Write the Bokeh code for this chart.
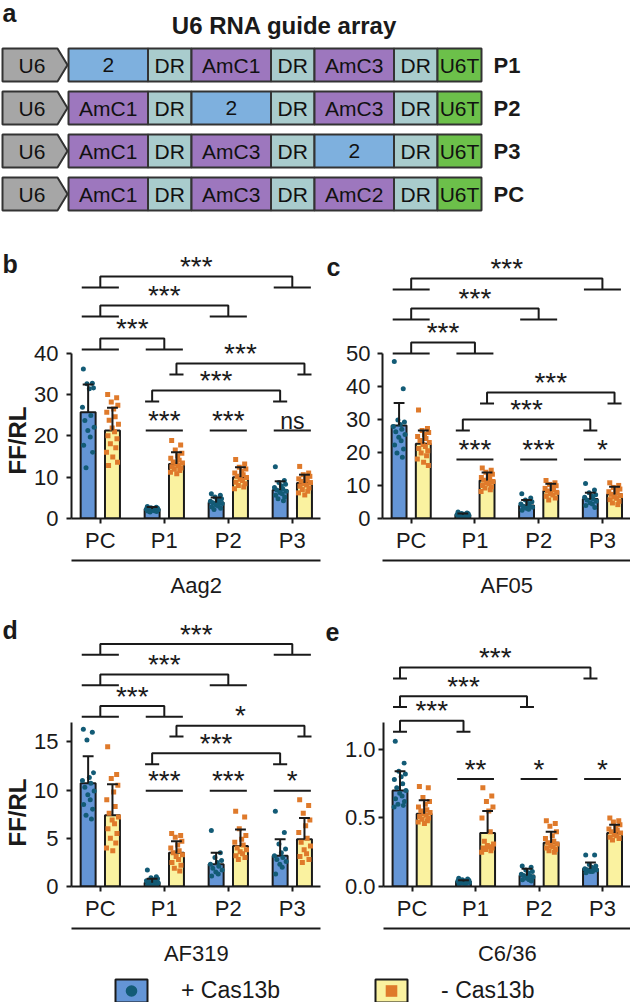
import math
import numpy as np
from bokeh.plotting import figure
from bokeh.models import (Range1d, FixedTicker, LinearAxis, Label, Legend,
                          LegendItem, NumeralTickFormatter)
from bokeh.layouts import column, row
from bokeh.embed import file_html
from bokeh.resources import INLINE
from bokeh.core.properties import value

FONT = "Liberation Sans"
INK = "#1a1a1a"

# ---------------- data ----------------
array_rows = ["P1", "P2", "P3", "PC"]
array_parts = [
    ["2", "DR", "AmC1", "DR", "AmC3", "DR", "U6T"],
    ["AmC1", "DR", "2", "DR", "AmC3", "DR", "U6T"],
    ["AmC1", "DR", "AmC3", "DR", "2", "DR", "U6T"],
    ["AmC1", "DR", "AmC3", "DR", "AmC2", "DR", "U6T"],
]
promoter = "U6"

groups = ["PC", "P1", "P2", "P3"]
series_labels = ["+ Cas13b", "- Cas13b"]
y_title = "FF/RL"

# Aag2 (b)
aag2_plus_mean = [25.7, 2.3, 3.9, 6.9]
aag2_plus_sd = [6.7, 0.5, 1.2, 2.1]
aag2_plus_pts = [
    [36.2, 32.7, 32.6, 31.6, 31.4, 26.9, 24.9, 23.7, 22.1, 21.3, 19.7, 17.7, 16.0, 12.3],
    [2.9, 2.7, 2.6, 2.5, 2.4, 2.3, 2.2, 2.2, 2.1, 2.0, 1.9, 1.8, 1.7, 1.6],
    [6.0, 5.6, 5.2, 4.8, 4.5, 4.2, 4.0, 3.8, 3.6, 3.3, 3.0, 2.8, 2.5, 2.2],
    [12.5, 9.2, 8.7, 8.3, 7.9, 7.5, 7.2, 6.9, 6.6, 6.3, 6.0, 5.6, 5.2, 4.8, 4.3],
]
aag2_minus_mean = [21.3, 13.2, 10.0, 8.6]
aag2_minus_sd = [5.5, 2.8, 2.4, 2.0]
aag2_minus_pts = [
    [30.0, 29.2, 28.2, 27.4, 26.5, 25.7, 24.6, 23.8, 22.8, 21.9, 21.0, 20.0, 19.3, 18.1, 17.1, 16.0, 14.9, 13.6, 12.8],
    [18.9, 17.8, 16.6, 15.8, 15.2, 14.6, 14.1, 13.7, 13.4, 13.1, 12.8, 12.5, 12.2, 11.9, 11.6, 11.2, 10.8],
    [14.3, 13.2, 12.4, 12.0, 11.4, 11.0, 10.6, 10.2, 9.9, 9.5, 9.2, 8.8, 8.4, 8.0, 7.6, 7.2],
    [12.6, 11.0, 10.6, 10.2, 9.9, 9.6, 9.3, 9.0, 8.7, 8.4, 8.1, 7.8, 7.4, 7.0, 6.6, 6.2, 5.7],
]
aag2_brackets = [("PC", "P3", "both", "***"), ("PC", "P2", "both", "***"), ("PC", "P1", "both", "***"),
                 ("P1", "P3", "minus", "***"), ("P1", "P3", "plus", "***")]
aag2_pairs = ["", "***", "***", "ns"]

# AF05 (c)
af05_plus_mean = [28.1, 1.1, 3.9, 5.9]
af05_plus_sd = [6.8, 0.4, 1.7, 1.9]
af05_plus_pts = [
    [47.5, 39.2, 29.8, 29.2, 28.4, 27.8, 27.0, 26.2, 25.4, 24.6, 23.5, 22.2, 21.0, 19.8, 18.5],
    [2.0, 1.7, 1.5, 1.4, 1.3, 1.2, 1.1, 1.0, 0.9, 0.8, 0.7, 0.6, 0.5],
    [7.5, 6.2, 5.6, 5.1, 4.7, 4.4, 4.0, 3.7, 3.4, 3.1, 2.8, 2.5],
    [10.6, 8.6, 7.8, 7.2, 6.8, 6.4, 6.0, 5.6, 5.2, 4.8, 4.4, 3.9, 3.3],
]
af05_minus_mean = [22.6, 11.5, 8.3, 7.3]
af05_minus_sd = [4.0, 2.4, 2.2, 2.3]
af05_minus_pts = [
    [32.8, 27.2, 26.6, 26.0, 25.4, 24.8, 24.2, 23.6, 23.0, 22.4, 21.8, 21.2, 20.5, 19.8, 19.0, 18.0, 17.0, 16.0],
    [15.3, 14.6, 14.0, 13.4, 12.9, 12.4, 12.0, 11.6, 11.2, 10.8, 10.4, 10.0, 9.6, 9.2, 8.7, 8.2],
    [11.5, 10.8, 10.3, 9.9, 9.5, 9.1, 8.7, 8.3, 7.9, 7.5, 7.1, 6.7, 6.2, 5.6],
    [10.8, 10.0, 9.4, 8.9, 8.5, 8.1, 7.7, 7.3, 6.9, 6.5, 6.1, 5.7, 5.2, 4.7, 4.2],
]
af05_brackets = [("PC", "P3", "both", "***"), ("PC", "P2", "both", "***"), ("PC", "P1", "both", "***"),
                 ("P1", "P3", "minus", "***"), ("P1", "P3", "plus", "***")]
af05_pairs = ["", "***", "***", "*"]

# AF319 (d)
af319_plus_mean = [10.7, 0.4, 2.3, 3.2]
af319_plus_sd = [2.8, 0.4, 1.2, 1.7]
af319_plus_pts = [
    [16.3, 16.0, 15.2, 11.8, 11.3, 11.0, 10.7, 10.3, 9.9, 9.5, 9.0, 8.5, 8.0, 7.4, 7.0],
    [1.7, 1.0, 0.9, 0.8, 0.7, 0.6, 0.5, 0.5, 0.4, 0.3, 0.3, 0.2, 0.2, 0.1],
    [5.8, 3.5, 3.0, 2.7, 2.5, 2.3, 2.1, 1.9, 1.7, 1.5, 1.3, 1.1],
    [7.8, 5.6, 4.4, 3.9, 3.5, 3.2, 3.0, 2.8, 2.6, 2.3, 2.0, 1.3],
]
af319_minus_mean = [7.4, 3.5, 4.2, 4.9]
af319_minus_sd = [3.2, 1.2, 1.7, 2.2]
af319_minus_pts = [
    [14.5, 11.6, 11.2, 10.5, 9.8, 9.0, 8.3, 7.6, 7.2, 6.9, 6.5, 6.0, 5.5, 5.0, 4.5, 4.0, 3.7],
    [5.5, 5.3, 5.1, 4.7, 4.3, 4.0, 3.7, 3.5, 3.3, 3.1, 2.8, 2.5, 2.2, 1.9, 1.6],
    [7.8, 7.2, 6.0, 5.3, 4.9, 4.6, 4.3, 4.0, 3.8, 3.6, 3.4, 3.2, 3.0, 2.8],
    [9.0, 8.4, 7.6, 6.9, 6.3, 5.6, 5.0, 4.6, 4.2, 3.8, 3.4, 3.1, 2.8, 2.5],
]
af319_brackets = [("PC", "P3", "both", "***"), ("PC", "P2", "both", "***"), ("PC", "P1", "both", "***"),
                  ("P1", "P3", "minus", "*"), ("P1", "P3", "plus", "***")]
af319_pairs = ["", "***", "***", "*"]

# C6/36 (e)
c636_plus_mean = [0.70, 0.036, 0.08, 0.13]
c636_plus_sd = [0.14, 0.01, 0.05, 0.045]
c636_plus_pts = [
    [1.06, 0.90, 0.84, 0.82, 0.80, 0.78, 0.75, 0.72, 0.70, 0.68, 0.66, 0.64, 0.62, 0.60, 0.59, 0.58],
    [0.06, 0.055, 0.05, 0.045, 0.04, 0.04, 0.035, 0.03, 0.03, 0.025, 0.02, 0.02],
    [0.15, 0.14, 0.12, 0.11, 0.10, 0.09, 0.08, 0.08, 0.07, 0.06, 0.05, 0.05, 0.04],
    [0.23, 0.23, 0.16, 0.15, 0.14, 0.13, 0.13, 0.12, 0.12, 0.11, 0.11, 0.10],
]
c636_minus_mean = [0.53, 0.39, 0.32, 0.39]
c636_minus_sd = [0.10, 0.16, 0.08, 0.06]
c636_minus_pts = [
    [0.73, 0.72, 0.65, 0.62, 0.60, 0.58, 0.56, 0.55, 0.54, 0.53, 0.52, 0.51, 0.50, 0.49, 0.48, 0.47, 0.46],
    [0.72, 0.66, 0.62, 0.58, 0.55, 0.50, 0.40, 0.33, 0.31, 0.30, 0.29, 0.28, 0.28, 0.27, 0.26, 0.25],
    [0.48, 0.46, 0.44, 0.40, 0.37, 0.35, 0.33, 0.32, 0.31, 0.30, 0.29, 0.28, 0.27, 0.26, 0.25],
    [0.50, 0.48, 0.47, 0.45, 0.43, 0.42, 0.41, 0.40, 0.39, 0.38, 0.37, 0.36, 0.35, 0.34],
]
c636_brackets = [("PC", "P3", "plus", "***"), ("PC", "P2", "plus", "***"), ("PC", "P1", "plus", "***")]
c636_pairs = ["", "**", "*", "*"]

# ---------------- styles ----------------
BAR_PLUS, BAR_MINUS = "#6495D6", "#FAF2A0"
DOT_PLUS, DOT_MINUS = "#135B76", "#DF7A2B"
PART_COLOR = {"2": "#7EB0DE", "DR": "#A9CCCD", "AmC": "#9D77BE", "U6T": "#6CC04A", "U6": "#A6A6A6"}
PART_W = {"2": 79.5, "DR": 43.5, "AmC": 79.5, "U6T": 44.0}
BAR_W = 0.234
OFF = 0.19
CAP = 0.085
GROUP_HW = 0.29
FOOT_HW = 0.11
DROP = 11
TXT_GAP = 10
TICK_FS = "22px"
PX_PER_GROUP = 64.0
X0 = -0.45
AX_END = 3.44
STRIP_W = 30
JIT = [-0.32, 0.28, -0.08, 0.36, 0.08, -0.38, 0.18, -0.22, 0.40, -0.02,
       0.14, -0.30, 0.30, -0.14, 0.22, -0.40, 0.02, 0.34, -0.26, 0.10]


def kind(part):
    return "AmC" if part.startswith("AmC") else part


def bare(fig):
    fig.axis.visible = False
    fig.grid.visible = False
    fig.outline_line_color = None


# ---------------- panel a ----------------
pa = figure(width=630, height=215, x_range=Range1d(0, 630), y_range=Range1d(215, 0),
            output_backend="svg", toolbar_location=None, min_border=0)
bare(pa)

row_top0, row_pitch, row_h = 48, 43, 33
arr_left, arr_body, arr_tip = 2, 55, 10
x_start = 68
L, R, T, B, C, TX, TY, TT = [], [], [], [], [], [], [], []
pxs, pys = [], []
for i, parts in enumerate(array_parts):
    t = row_top0 + i * row_pitch
    b = t + row_h
    m = (t + b) / 2
    pxs.append([arr_left, arr_left + arr_body, arr_left + arr_body + arr_tip, arr_left + arr_body, arr_left])
    pys.append([t, t, m, b, b])
    TX.append(arr_left + arr_body / 2 + 2); TY.append(m); TT.append(promoter)
    x = x_start
    for part in parts:
        w = PART_W[kind(part)]
        L.append(x); R.append(x + w); T.append(t); B.append(b)
        C.append(PART_COLOR[kind(part)])
        TX.append(x + w / 2); TY.append(m); TT.append(part)
        x += w
pa.patches(pxs, pys, fill_color=PART_COLOR["U6"], line_color="#333333", line_width=2)
pa.quad(left=L, right=R, top=T, bottom=B, fill_color=C, line_color="#333333", line_width=2)
pa.text(TX, TY, text=TT, text_align="center", text_baseline="middle",
        text_font=value(FONT), text_font_size="21px", text_color="#111111")
row_mid = [row_top0 + i * row_pitch + row_h / 2 for i in range(len(array_rows))]
pa.text([x_start + 425] * len(array_rows), row_mid, text=array_rows, text_align="left",
        text_baseline="middle", text_font=value(FONT), text_font_size="22px",
        text_font_style="bold", text_color=INK)
pa.add_layout(Label(x=2, y=-2, text="a", text_font=FONT, text_font_size="25px",
                    text_font_style="bold", text_baseline="top", text_color=INK))
pa.add_layout(Label(x=284, y=25, text="U6 RNA guide array", text_font=FONT, text_font_size="24px",
                    text_font_style="bold", text_baseline="middle", text_align="center", text_color=INK))


# ---------------- left strip: panel letter + y title ----------------
def strip(H, bottom, letter, letter_y, title_y):
    fh = H - bottom
    s = figure(width=STRIP_W, height=H, x_range=Range1d(0, STRIP_W), y_range=Range1d(0, fh),
               output_backend="svg", toolbar_location=None, min_border_left=0, min_border_right=0,
               min_border_top=0, min_border_bottom=bottom)
    bare(s)
    s.text([2], [letter_y], text=[letter], text_baseline="middle", text_align="left",
           text_font=value(FONT), text_font_size="25px", text_font_style="bold", text_color=INK)
    s.text([17], [title_y], text=[y_title], angle=math.pi / 2, text_baseline="middle",
           text_align="center", text_font=value(FONT), text_font_size="24px",
           text_font_style="bold", text_color=INK)
    return s


# ---------------- bar panels ----------------
def bar_panel(cell, plus_mean, plus_sd, plus_pts, minus_mean, minus_sd, minus_pts,
              brackets, pairs, lay):
    W, H, bb, left = lay["w"], lay["h"], lay["bottom"], lay["left"]
    frame_h = H - bb
    ppu = lay["ppu"]
    x_end = X0 + (W - left) / PX_PER_GROUP
    p = figure(width=W, height=H, x_range=Range1d(X0, x_end), y_range=Range1d(0, frame_h / ppu),
               output_backend="svg", toolbar_location=None,
               min_border_left=left, min_border_right=0, min_border_top=0, min_border_bottom=bb)
    p.grid.visible = False
    p.outline_line_color = None
    xi = np.arange(len(groups))
    specs = [(plus_mean, plus_sd, plus_pts, -OFF, BAR_PLUS, DOT_PLUS, "circle", 5),
             (minus_mean, minus_sd, minus_pts, OFF, BAR_MINUS, DOT_MINUS, "square", 5)]
    for mean, sd, pts, off, fill, dot, marker, size in specs:
        p.vbar(x=xi + off, top=mean, bottom=0, width=BAR_W, fill_color=fill,
               line_color=INK, line_width=2)
    for mean, sd, pts, off, fill, dot, marker, size in specs:
        px, py = [], []
        for g, vals in enumerate(pts):
            for k, v in enumerate(vals):
                px.append(g + off + JIT[k % len(JIT)] * BAR_W)
                py.append(v)
        p.scatter(px, py, marker=marker, size=size, fill_color=dot, line_color=None)
    for mean, sd, pts, off, fill, dot, marker, size in specs:
        x = xi + off
        up = [m + s for m, s in zip(mean, sd)]
        p.segment(x0=x, y0=mean, x1=x, y1=up, line_color=INK, line_width=2)
        p.segment(x0=x - CAP, y0=up, x1=x + CAP, y1=up, line_color=INK, line_width=2)

    lx, ly, tx, ty, tt = [], [], [], [], []
    for (ga, gb, series, label), lvl in zip(brackets, lay["levels"]):
        a, b = groups.index(ga), groups.index(gb)
        if series == "both":
            off, fw = 0.0, GROUP_HW
        elif series == "plus":
            off, fw = -OFF, FOOT_HW
        else:
            off, fw = OFF, FOOT_HW
        xa, xb = a + off, b + off
        yl, yf = lvl / ppu, (lvl - DROP) / ppu
        lx += [[xa, xa, xb, xb], [xa - fw, xa + fw], [xb - fw, xb + fw]]
        ly += [[yf, yl, yl, yf], [yf, yf], [yf, yf]]
        tx.append((xa + xb) / 2); ty.append((lvl + TXT_GAP) / ppu); tt.append(label)
    pl_ = lay["pair"] / ppu
    for g, label in enumerate(pairs):
        if label:
            lx.append([g - GROUP_HW, g + GROUP_HW]); ly.append([pl_, pl_])
            tx.append(g); ty.append((lay["pair"] + TXT_GAP) / ppu); tt.append(label)
    p.multi_line(lx, ly, line_color=INK, line_width=2)
    stars = [i for i, t in enumerate(tt) if t.startswith("*")]
    words = [i for i, t in enumerate(tt) if not t.startswith("*")]
    for idx, fs in ((stars, "28px"), (words, "23px")):
        if idx:
            p.text([tx[i] for i in idx], [ty[i] for i in idx], text=[tt[i] for i in idx],
                   text_align="center", text_baseline="alphabetic",
                   text_font=value(FONT), text_font_size=fs, text_color=INK)

    # letter of the neighbouring panel, which sits in this panel's spare right margin
    if lay.get("next_letter"):
        nx = X0 + lay["next_x"] / PX_PER_GROUP
        p.text([nx], [lay["next_y"] / ppu], text=[lay["next_letter"]], text_align="left",
               text_baseline="middle", text_font=value(FONT), text_font_size="25px",
               text_font_style="bold", text_color=INK)

    xa_ = p.xaxis[0]
    xa_.ticker = FixedTicker(ticks=list(range(len(groups))))
    xa_.major_label_overrides = {i: g for i, g in enumerate(groups)}
    xa_.major_label_standoff = 4
    xa_.axis_label = "\u00a0"
    xa_.axis_label_standoff = 0
    xa_.bounds = (X0, AX_END)
    mid = (len(groups) - 1) / 2
    ax2 = LinearAxis(ticker=FixedTicker(ticks=[mid]), major_label_overrides={mid: cell})
    ax2.bounds = (X0, AX_END)
    ya = p.yaxis[0]
    ya.ticker = FixedTicker(ticks=lay["yticks"])
    ya.bounds = (0, lay["ybound"])
    if lay.get("fmt"):
        ya.formatter = NumeralTickFormatter(format=lay["fmt"])
    for ax in (xa_, ax2, ya):
        ax.axis_line_width = 2
        ax.axis_line_color = INK
        ax.major_tick_line_width = 2
        ax.major_tick_line_color = INK
        ax.major_tick_out = 5
        ax.major_tick_in = 0
        ax.minor_tick_line_color = None
        ax.major_label_text_font = FONT
        ax.major_label_text_font_size = TICK_FS
        ax.major_label_text_color = INK
        ax.axis_label_text_font = FONT
        ax.axis_label_text_color = INK
        ax.axis_label_text_font_style = "normal"
    ya.major_label_standoff = lay["ystand"]
    xa_.axis_label_text_font_size = "2px"
    ax2.major_tick_out = 0
    ax2.major_tick_line_color = None
    ax2.major_label_standoff = 12
    p.add_layout(ax2, "below")
    return p


lay_b = dict(w=313, h=385, bottom=82, left=41, ppu=4.133, yticks=[0, 10, 20, 30, 40], ybound=40,
             levels=[242, 213, 180, 155, 128], pair=88, ystand=8,
             next_letter="c", next_x=255, next_y=252)
lay_c = dict(w=287, h=385, bottom=82, left=38, ppu=3.307, yticks=[0, 10, 20, 30, 40, 50], ybound=50,
             levels=[240, 210, 176, 126, 99], pair=59, ystand=7)
lay_d = dict(w=311, h=368, bottom=78, left=41, ppu=9.78, yticks=[0, 5, 10, 15], ybound=17,
             levels=[246, 215, 183, 163, 135], pair=97, ystand=8,
             next_letter="e", next_x=254, next_y=258)
lay_e = dict(w=289, h=368, bottom=78, left=40, ppu=139.0, yticks=[0, 0.5, 1.0], ybound=1.2,
             levels=[222, 193, 168], pair=109, ystand=3, fmt="0.0")

pb = bar_panel("Aag2", aag2_plus_mean, aag2_plus_sd, aag2_plus_pts, aag2_minus_mean, aag2_minus_sd,
               aag2_minus_pts, aag2_brackets, aag2_pairs, lay_b)
pc = bar_panel("AF05", af05_plus_mean, af05_plus_sd, af05_plus_pts, af05_minus_mean, af05_minus_sd,
               af05_minus_pts, af05_brackets, af05_pairs, lay_c)
pd_ = bar_panel("AF319", af319_plus_mean, af319_plus_sd, af319_plus_pts, af319_minus_mean, af319_minus_sd,
                af319_minus_pts, af319_brackets, af319_pairs, lay_d)
pe = bar_panel("C6/36", c636_plus_mean, c636_plus_sd, c636_plus_pts, c636_minus_mean, c636_minus_sd,
               c636_minus_pts, c636_brackets, c636_pairs, lay_e)

# positions in px above each row's x axis
sb = strip(385, 82, "b", 255, 78)
sd = strip(368, 78, "d", 260, 75)

# ---------------- legend ----------------
pl = figure(width=630, height=34, x_range=Range1d(0, 1), y_range=Range1d(0, 1),
            output_backend="svg", toolbar_location=None, min_border=0)
bare(pl)
nan = [float("nan")]
rb1 = pl.vbar(x=nan, top=nan, width=0.1, fill_color=BAR_PLUS, line_color=INK, line_width=2)
rd1 = pl.scatter(x=nan, y=nan, marker="circle", size=7, fill_color=DOT_PLUS, line_color=None)
rb2 = pl.vbar(x=nan, top=nan, width=0.1, fill_color=BAR_MINUS, line_color=INK, line_width=2)
rd2 = pl.scatter(x=nan, y=nan, marker="square", size=7, fill_color=DOT_MINUS, line_color=None)
leg = Legend(items=[LegendItem(label=series_labels[0], renderers=[rb1, rd1]),
                    LegendItem(label=series_labels[1], renderers=[rb2, rd2])],
             orientation="horizontal", location=(111, -3), glyph_width=40, glyph_height=29,
             label_standoff=30, spacing=91, padding=0, margin=0, border_line_color=None,
             background_fill_alpha=0, label_text_font=FONT, label_text_font_size="23px",
             label_text_color=INK)
pl.add_layout(leg, "center")

layout = column(pa, row(sb, pb, pc), row(sd, pd_, pe), pl)
open("out.html", "w").write(file_html(layout, INLINE))
